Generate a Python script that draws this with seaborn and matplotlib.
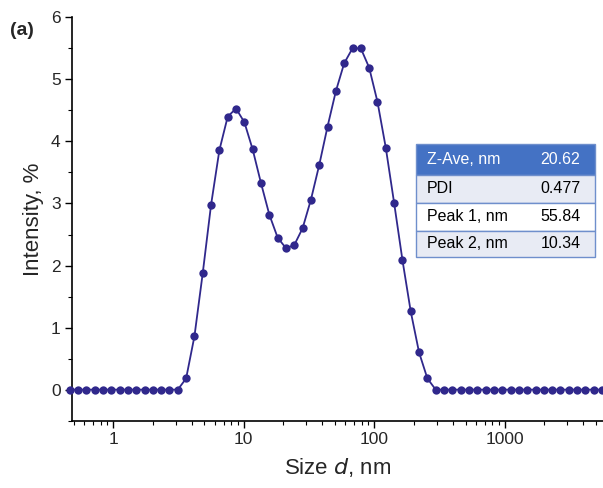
import matplotlib
matplotlib.use("Agg")
import matplotlib.pyplot as plt
import seaborn as sns
import pandas as pd
from matplotlib.patches import Rectangle
from matplotlib.ticker import FixedLocator, MultipleLocator, NullFormatter, LogLocator

# size bins (nm) and intensity (%)
size_nm = [0.4632, 0.5365, 0.6213, 0.7195, 0.8332, 0.9649, 1.117, 1.294, 1.499, 1.736,
           2.010, 2.328, 2.696, 3.122, 3.615, 4.187, 4.849, 5.615, 6.503, 7.531,
           8.721, 10.10, 11.70, 13.54, 15.69, 18.17, 21.04, 24.36, 28.21, 32.67,
           37.84, 43.82, 50.75, 58.77, 68.06, 78.82, 91.28, 105.7, 122.4, 141.8,
           164.2, 190.1, 220.2, 255.0, 295.3, 342.0, 396.1, 458.7, 531.2, 615.1,
           712.4, 825.0, 955.4, 1106, 1281, 1484, 1718, 1990, 2305, 2669,
           3091, 3580, 4145, 4801, 5560]
intensity = [0, 0, 0, 0, 0, 0, 0, 0, 0, 0,
             0, 0, 0, 0, 0.18, 0.86, 1.88, 2.98, 3.86, 4.40,
             4.53, 4.31, 3.87, 3.33, 2.82, 2.45, 2.28, 2.33, 2.60, 3.06,
             3.62, 4.24, 4.81, 5.26, 5.50, 5.50, 5.19, 4.64, 3.90, 3.01,
             2.09, 1.26, 0.60, 0.18, 0, 0, 0, 0, 0, 0,
             0, 0, 0, 0, 0, 0, 0, 0, 0, 0,
             0, 0, 0, 0, 0]

# summary table
table_labels = ["Z-Ave, nm", "PDI", "Peak 1, nm", "Peak 2, nm"]
table_values = ["20.62", "0.477", "55.84", "10.34"]

x_ticks = [1, 10, 100, 1000]

df = pd.DataFrame({"size": size_nm, "intensity": intensity})

sns.set_style("ticks")
plt.rcParams["font.family"] = ["Liberation Sans", "DejaVu Sans"]

fig = plt.figure(figsize=(6.03, 4.88), dpi=100)
ax = fig.add_axes([0.1202, 0.138, 0.8798, 0.8265])

color = "#30288c"
sns.lineplot(data=df, x="size", y="intensity", ax=ax, color=color, lw=1.3,
             marker="o", markersize=6, markeredgewidth=0, clip_on=False, zorder=3)

ax.set_xscale("log")
ax.set_xlim(0.487, 5650)
ax.set_ylim(-0.5, 6)

ax.xaxis.set_major_locator(FixedLocator(x_ticks))
ax.set_xticklabels([str(t) for t in x_ticks])
ax.xaxis.set_minor_locator(LogLocator(base=10, subs=range(2, 10), numticks=20))
ax.xaxis.set_minor_formatter(NullFormatter())
ax.yaxis.set_major_locator(MultipleLocator(1))
ax.yaxis.set_minor_locator(MultipleLocator(0.5))

ax.tick_params(which="major", length=5, width=1, labelsize=12.5, color="black")
ax.tick_params(which="minor", length=3, width=0.8, color="black")
for side in ["top", "right"]:
    ax.spines[side].set_visible(False)
for side in ["left", "bottom"]:
    ax.spines[side].set_linewidth(1.2)
    ax.spines[side].set_color("black")

ax.set_xlabel("Size $\\it{d}$, nm", fontsize=16, labelpad=6)
ax.set_ylabel("Intensity, %", fontsize=16, labelpad=5)

fig.text(0.017, 0.937, "(a)", fontsize=14, fontweight="bold", va="center")

# table drawn as rows of rectangles in axes coords
x0, w, top = 0.6475, 0.3374, 0.686
row_h = [0.077, 0.069, 0.069, 0.065]
fills = ["#4472c4", "#e8ebf4", "#ffffff", "#e8ebf4"]
y = top
for i, (lab, val) in enumerate(zip(table_labels, table_values)):
    y -= row_h[i]
    ax.add_patch(Rectangle((x0, y), w, row_h[i], transform=ax.transAxes,
                           facecolor=fills[i], edgecolor="#6f8fcc", lw=1.0,
                           clip_on=False, zorder=5))
    tc = "white" if i == 0 else "black"
    ax.text(x0 + 0.02, y + row_h[i] / 2, lab, transform=ax.transAxes,
            fontsize=11.5, color=tc, va="center", ha="left", zorder=6)
    ax.text(x0 + 0.235, y + row_h[i] / 2, val, transform=ax.transAxes,
            fontsize=11.5, color=tc, va="center", ha="left", zorder=6)

fig.savefig("out.png", dpi=100)
